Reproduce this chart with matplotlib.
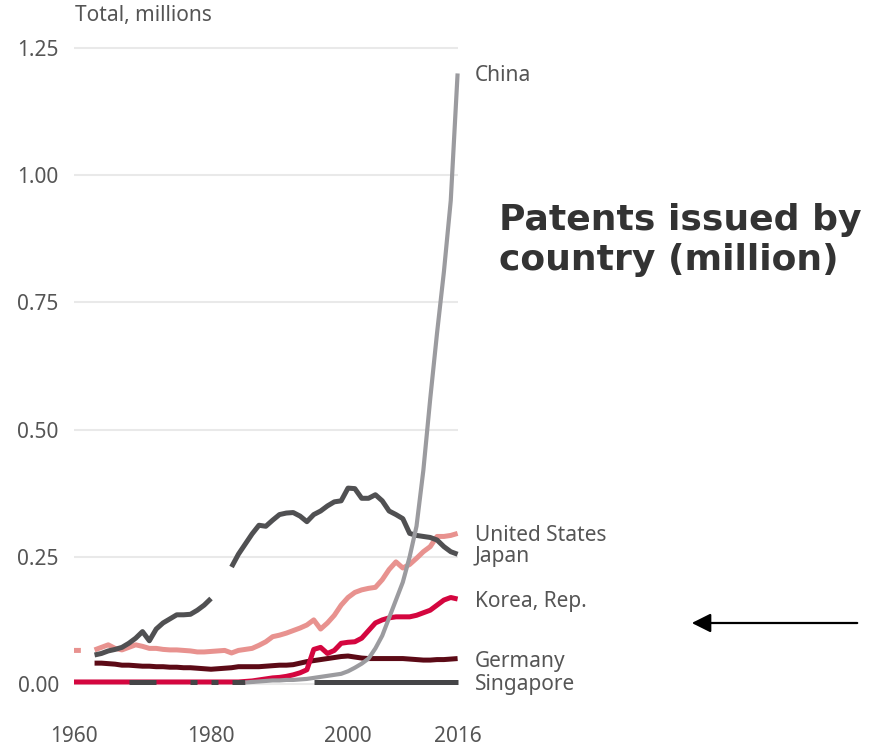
import numpy as np
import matplotlib
matplotlib.use("Agg")
import matplotlib.pyplot as plt

nan = np.nan
years = list(range(1960, 2017))

japan = [nan, nan, nan, 0.057, 0.060, 0.065, 0.068, 0.072, 0.080, 0.090,
         0.103, 0.085, 0.108, 0.120, 0.128, 0.136, 0.136, 0.137, 0.145, 0.155,
         0.168, nan, nan, 0.230, 0.255, 0.275, 0.295, 0.312, 0.310, 0.322,
         0.333, 0.336, 0.337, 0.330, 0.319, 0.333, 0.340, 0.350, 0.358, 0.360,
         0.385, 0.384, 0.365, 0.365, 0.372, 0.360, 0.340, 0.333, 0.325, 0.296,
         0.292, 0.290, 0.288, 0.283, 0.270, 0.260, 0.255]

us = [0.066, 0.066, nan, 0.067, 0.072, 0.077, 0.070, 0.067, 0.072, 0.077,
      0.074, 0.070, 0.070, 0.068, 0.067, 0.067, 0.066, 0.065, 0.063, 0.063,
      0.064, 0.065, 0.066, 0.061, 0.066, 0.068, 0.070, 0.076, 0.083, 0.093,
      0.096, 0.100, 0.105, 0.110, 0.116, 0.126, 0.108, 0.120, 0.135, 0.155,
      0.170, 0.180, 0.185, 0.188, 0.190, 0.205, 0.225, 0.240, 0.228, 0.235,
      0.247, 0.260, 0.270, 0.290, 0.290, 0.292, 0.296]

korea = [0.004] * 25 + [0.005, 0.006, 0.008, 0.010, 0.012,
         0.013, 0.015, 0.018, 0.022, 0.028, 0.068, 0.072, 0.060, 0.066, 0.080,
         0.082, 0.083, 0.090, 0.105, 0.120, 0.126, 0.130, 0.132, 0.132, 0.132,
         0.135, 0.140, 0.145, 0.155, 0.165, 0.170, 0.167]

germany = [nan, nan, nan, 0.041, 0.041, 0.040, 0.039, 0.037, 0.037, 0.036,
           0.035, 0.035, 0.034, 0.034, 0.033, 0.033, 0.032, 0.032, 0.031, 0.030,
           0.029, 0.030, 0.031, 0.032, 0.034, 0.034, 0.034, 0.034, 0.035, 0.036,
           0.037, 0.037, 0.038, 0.041, 0.044, 0.046, 0.048, 0.050, 0.052, 0.054,
           0.055, 0.053, 0.051, 0.050, 0.050, 0.050, 0.050, 0.050, 0.050, 0.049,
           0.048, 0.047, 0.047, 0.048, 0.048, 0.049, 0.050]

china = [nan] * 25 + [0.003, 0.004, 0.005, 0.006, 0.007,
         0.007, 0.008, 0.008, 0.009, 0.010, 0.012, 0.014, 0.016, 0.018, 0.020,
         0.025, 0.032, 0.040, 0.050, 0.070, 0.095, 0.130, 0.165, 0.200, 0.250,
         0.310, 0.420, 0.560, 0.690, 0.810, 0.950, 1.200]

s = 0.004
singapore = [nan, nan, nan, nan, nan, nan, nan, nan, s, s,
             s, s, s, nan, nan, nan, nan, s, s, nan,
             s, s, nan, s, s, s, nan, nan, nan, nan,
             nan, nan, nan, nan, nan] + [s] * 22

names = ["China", "United States", "Japan", "Korea, Rep.", "Germany", "Singapore"]
yticks = [0.0, 0.25, 0.5, 0.75, 1.0, 1.25]
ytick_labels = ["0.00", "0.25", "0.50", "0.75", "1.00", "1.25"]
xticks = [1960, 1980, 2000, 2016]
xtick_labels = ["1960", "1980", "2000", "2016"]

col_china = "#9b9b9f"
col_japan = "#505052"
col_us = "#e8928f"
col_korea = "#d4063f"
col_germany = "#5c0a16"
col_sing = "#454547"
txt = "#555555"

W, H = 871, 748
fig = plt.figure(figsize=(W / 100, H / 100), dpi=100)
# mapping: x px = 74 + 6.85*(yr-1960), y px = 684 - 508.8*v
xlo, xhi = 1959, 2017
ylo, yhi = -0.05, 1.26
left = (74 + 6.85 * (xlo - 1960)) / W
width = 6.85 * (xhi - xlo) / W
bottom = 1 - (684 - 508.8 * ylo) / H
height = 508.8 * (yhi - ylo) / H
ax = fig.add_axes([left, bottom, width, height])
ax.set_xlim(xlo, xhi)
ax.set_ylim(ylo, yhi)
for sp in ax.spines.values():
    sp.set_visible(False)

for yv in yticks:
    ax.plot([1960, 2016], [yv, yv], color="#e9e9e9", lw=1.5, zorder=0,
            solid_capstyle="butt")

fam = ["Noto Sans", "DejaVu Sans"]
fs = 15
ax.set_yticks(yticks)
ax.set_yticklabels(ytick_labels, fontsize=fs, color=txt, family=fam)
ax.set_xticks(xticks)
ax.set_xticklabels(xtick_labels, fontsize=fs, color=txt, family=fam)
ax.tick_params(axis="y", length=0, pad=6)
ax.tick_params(axis="x", length=0, pad=12)

kw = dict(solid_capstyle="butt", solid_joinstyle="round")
ax.plot(years, germany, color=col_germany, lw=3.6, zorder=2, **kw)
ax.plot(years, korea, color=col_korea, lw=3.6, zorder=3, **kw)
ax.plot(years, us, color=col_us, lw=3.6, zorder=2, **kw)
ax.plot(years, japan, color=col_japan, lw=3.6, zorder=2, **kw)
ax.plot(years, singapore, color=col_sing, lw=3.6, zorder=4, **kw)
ax.plot(years, china, color=col_china, lw=3.0, zorder=5, **kw)

ends = [china[-1], us[-1], japan[-1], korea[-1], germany[-1], singapore[-1]]
for n, v in zip(names, ends):
    ax.text(2016 + 2.5, v, n, fontsize=fs, color=txt, family=fam,
            va="center_baseline", ha="left", clip_on=False)

fig.text(75 / W, 1 - 16 / H, "Total, millions", fontsize=fs, color=txt,
         family=fam, va="center", ha="left")

fig.text(499 / W, 1 - 240 / H, "Patents issued by\ncountry (million)",
         fontsize=26, fontweight="bold", color="#333333", family="DejaVu Sans",
         va="center", ha="left", linespacing=1.2)

fig.patches.append(matplotlib.patches.FancyArrowPatch(
    (860 / W, 1 - 623 / H), (689 / W, 1 - 623 / H), transform=fig.transFigure,
    arrowstyle="-|>,head_length=10,head_width=5", mutation_scale=1.15,
    color="black", lw=1.6))

fig.savefig("out.png", dpi=100)
